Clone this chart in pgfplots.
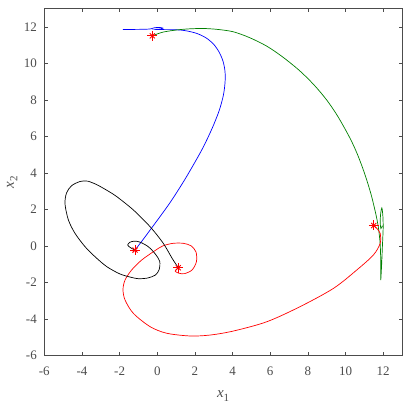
\documentclass[border=0pt]{standalone}
\usepackage{fontspec}
\setmainfont{Liberation Serif}
\usepackage{pgfplots}
\pgfplotsset{compat=1.18}
\definecolor{axgray}{gray}{0.3}
\definecolor{mgreen}{rgb}{0,0.5,0}
\begin{document}
\begin{tikzpicture}
\begin{axis}[name=ax, scale only axis, width=357.7bp, height=346.5bp,
 xmin=-6, xmax=13, ymin=-6, ymax=13,
 xtick={-6,-4,...,12}, ytick={-6,-4,...,12},
 tick align=inside, major tick length=3.5bp,
 axis line style={axgray, line width=0.6bp},
 tick style={axgray, line width=0.6bp},
 ticklabel style={font=\fontsize{13bp}{15bp}\selectfont, text=axgray},
 /pgf/number format/assume math mode=true,
 xticklabel style={yshift=-8bp},
 yticklabel style={xshift=-4bp},
 xlabel={\textit{x}\raisebox{-0.5ex}{\fontsize{11bp}{12bp}\selectfont 1}},
 ylabel={\textit{x}\raisebox{-0.5ex}{\fontsize{11bp}{12bp}\selectfont 2}},
 label style={font=\fontsize{15bp}{17bp}\selectfont, text=axgray},
 xlabel style={at={(axis description cs:0.5,-0.1227)}, anchor=base},
 ylabel style={at={(axis description cs:-0.085,0.5)}, anchor=base},
 every axis plot/.append style={line width=0.7bp},
]
\addplot[blue, smooth, tension=0.5] coordinates {
(-1.83,11.87) (-1.2,11.87) (-0.6,11.88) (-0.35,11.9) (-0.15,11.96) (0.1,11.98) (0.3,11.94) (0.15,11.89) (-0.1,11.87) (0.3,11.86) (1.0,11.85) (1.5,11.8) (2.1,11.65) (2.6,11.4) (3.0,11.05) (3.3,10.6) (3.5,10.1) (3.6,9.55) (3.6,8.95) (3.51,8.25) (3.3,7.45) (3.0,6.65) (2.65,5.85) (2.27,5.08) (1.5,3.7) (0.77,2.51) (0.2,1.68) (-0.38,0.87) (-0.7,0.42) (-1.18,-0.23)
};
\addplot[mgreen, smooth, tension=0.5] coordinates {
(-0.26,11.52) (0.3,11.72) (1.04,11.84) (1.7,11.9) (2.45,11.92) (3.2,11.87) (4.04,11.74) (4.9,11.42) (5.82,10.95) (6.7,10.33) (7.59,9.58) (8.35,8.8) (9.0,8.0) (9.5,7.25) (9.9,6.55) (10.3,5.78) (10.62,5.05) (10.9,4.3) (11.13,3.6) (11.35,2.85) (11.52,2.15) (11.66,1.5) (11.76,0.9) (11.84,0.1) (11.87,-0.8) (11.87,-1.87) (11.92,-1.0) (11.96,0.0) (12.0,1.0) (11.98,1.7) (11.93,2.08) (11.87,1.8) (11.84,1.3) (11.88,0.95) (11.95,1.1)
};
\addplot[red, smooth, tension=0.5] coordinates {
(1.12,-1.2) (0.95,-1.38) (1.15,-1.5) (1.45,-1.52) (1.85,-1.32) (2.08,-0.87) (2.06,-0.34) (1.8,0.0) (1.39,0.14) (0.84,0.14) (0.3,0.0) (-0.12,-0.26) (-0.82,-0.77) (-1.36,-1.32) (-1.71,-1.87) (-1.82,-2.4) (-1.71,-2.97) (-1.27,-3.70) (-0.38,-4.43) (0.5,-4.79) (1.74,-4.94) (2.8,-4.89) (4.04,-4.67) (5.82,-4.16) (7.59,-3.33) (9.36,-2.33) (10.6,-1.32) (11.48,-0.5) (11.84,0.14) (11.84,0.69) (11.66,0.96) (11.52,1.1)
};
\addplot[black, smooth, tension=0.5] coordinates {
(-1.18,-0.23) (-1.42,-0.1) (-1.57,0.05) (-1.45,0.2) (-1.2,0.26) (-0.9,0.2) (-0.47,-0.05) (-0.1,-0.45) (0.13,-0.85) (0.1,-1.3) (-0.1,-1.6) (-0.5,-1.76) (-1.0,-1.8) (-1.4,-1.72) (-1.98,-1.54) (-2.68,-1.14) (-3.31,-0.59) (-3.84,-0.04) (-4.37,0.69) (-4.72,1.42) (-4.9,2.3) (-4.82,2.9) (-4.55,3.3) (-4.1,3.53) (-3.7,3.55) (-3.2,3.35) (-2.6,3.0) (-2.15,2.7) (-1.27,1.97) (-0.38,1.05) (0.32,0.14) (0.8,-0.7) (1.12,-1.2)
};
\addplot[red, only marks, mark=+, mark size=5bp, line width=0.9bp] coordinates {
(-0.26,11.52) (11.5,1.12) (-1.18,-0.23) (1.12,-1.2)
};
\addplot[red, only marks, mark=x, mark size=3.6bp, line width=0.9bp] coordinates {
(-0.26,11.52) (11.5,1.12) (-1.18,-0.23) (1.12,-1.2)
};
\end{axis}
\pgfresetboundingbox
\path[use as bounding box] ([xshift=-44.3bp,yshift=-51.7bp]ax.south west) rectangle ([xshift=5bp,yshift=8.8bp]ax.north east);
\end{tikzpicture}
\end{document}
